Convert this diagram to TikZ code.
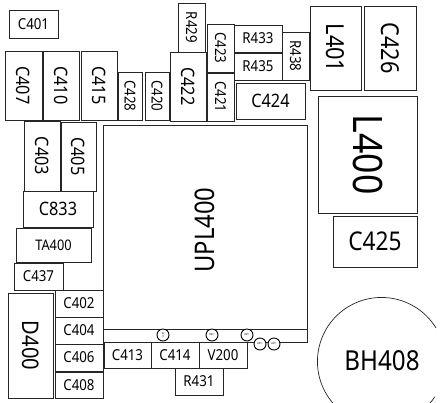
\documentclass[tikz,border=0pt]{standalone}
\usepackage{fontspec}
\setmainfont[FakeStretch=0.88]{Noto Sans}
\tikzset{
  x=1pt,y=-1pt,
  comp/.style={draw=black!85,line width=0.9pt,fill=white,inner sep=0pt},
  tiny/.style={draw=black,line width=0.9pt,fill=white,circle,minimum size=12pt,inner sep=0pt,font=\fontsize{2.6}{3}\selectfont},
}
\newcommand{\cbox}[7]{% name x1 y1 x2 y2 rot size
  \path[comp] (#2,#3) rectangle (#4,#5);
  \node[inner sep=0pt,rotate=#6,font=\fontsize{\the\dimexpr #7pt*104/100\relax}{12}\selectfont] (#1) at ({(#2+#4)/2},{(#3+#5)/2}) {#1};
}
\begin{document}
\begin{tikzpicture}
\useasboundingbox (0,0) rectangle (443,402);
\clip (0,0) rectangle (443,402);
\path[comp] (103,125) rectangle (307,329);
\node[inner sep=0pt,rotate=90,font=\fontsize{27}{27}\selectfont] (UPL400) at (204.5,230) {UPL400};
\path[comp] (103,329) rectangle (307,342);
\cbox{C401}{9}{10}{58}{38}{0}{14.5}
\cbox{C407}{5}{51}{42}{120}{-90}{17.8}
\cbox{C410}{43}{51}{79}{120}{-90}{17.8}
\cbox{C415}{81}{51}{117}{120}{-90}{17.8}
\cbox{C428}{118}{72}{142}{120}{-90}{14.5}
\cbox{C420}{145}{72}{169}{120}{-90}{14.5}
\cbox{R429}{178}{3}{205}{52}{-90}{14.5}
\cbox{C422}{170}{52}{206}{121}{-90}{17.8}
\cbox{C423}{207}{24}{234}{72}{-90}{14.5}
\cbox{C421}{207}{73}{234}{121}{-90}{14.5}
\cbox{R433}{234}{25}{282}{52}{0}{14.5}
\cbox{R435}{234}{53}{282}{80}{0}{14.5}
\cbox{R438}{282}{32}{309}{80}{-90}{14.5}
\cbox{L401}{310}{6}{361}{90}{-90}{23.8}
\cbox{C426}{364}{6}{416}{90}{-90}{23.7}
\cbox{C424}{236}{83}{305}{119}{0}{17.8}
\cbox{L400}{318}{96}{417}{213}{-90}{39}
\cbox{C425}{333}{216}{417}{267}{0}{24.8}
\cbox{C403}{24}{121}{60}{191}{-90}{17.8}
\cbox{C405}{61}{122}{96}{191}{-90}{17.8}
\cbox{C833}{23}{191}{93}{227}{0}{17.8}
\cbox{TA400}{16}{228}{91}{262}{0}{14}
\cbox{C437}{14}{263}{63}{290}{0}{14.5}
\cbox{C402}{55}{290}{103}{317}{0}{14.5}
\cbox{C404}{55}{317}{103}{344}{0}{14.5}
\cbox{C406}{55}{344}{103}{371}{0}{14.5}
\cbox{C408}{55}{372}{103}{398}{0}{14.5}
\cbox{D400}{8}{293}{53}{398}{-90}{22}
\cbox{C413}{104}{342}{151}{368}{0}{14.5}
\cbox{C414}{151}{342}{199}{368}{0}{14.5}
\cbox{V200}{199}{342}{247}{368}{0}{14.5}
\cbox{R431}{175}{368}{223}{395}{0}{14.5}
\node[tiny,rotate=-90] (c1) at (163,335) {C411};
\node[tiny] (c2) at (212,335) {R411};
\node[tiny] (c3) at (247,335) {R411};
\node[tiny] (c4) at (260,344) {R411};
\node[tiny] (c5) at (274,344) {R411};
\draw[line width=0.7pt,black!85] (436,328) arc[start angle=-31.5,delta angle=-295,radius=64];
\node[font=\fontsize{27.5}{27.5}\selectfont,inner sep=0pt] (BH408) at (382,361) {BH408};
\end{tikzpicture}
\end{document}
